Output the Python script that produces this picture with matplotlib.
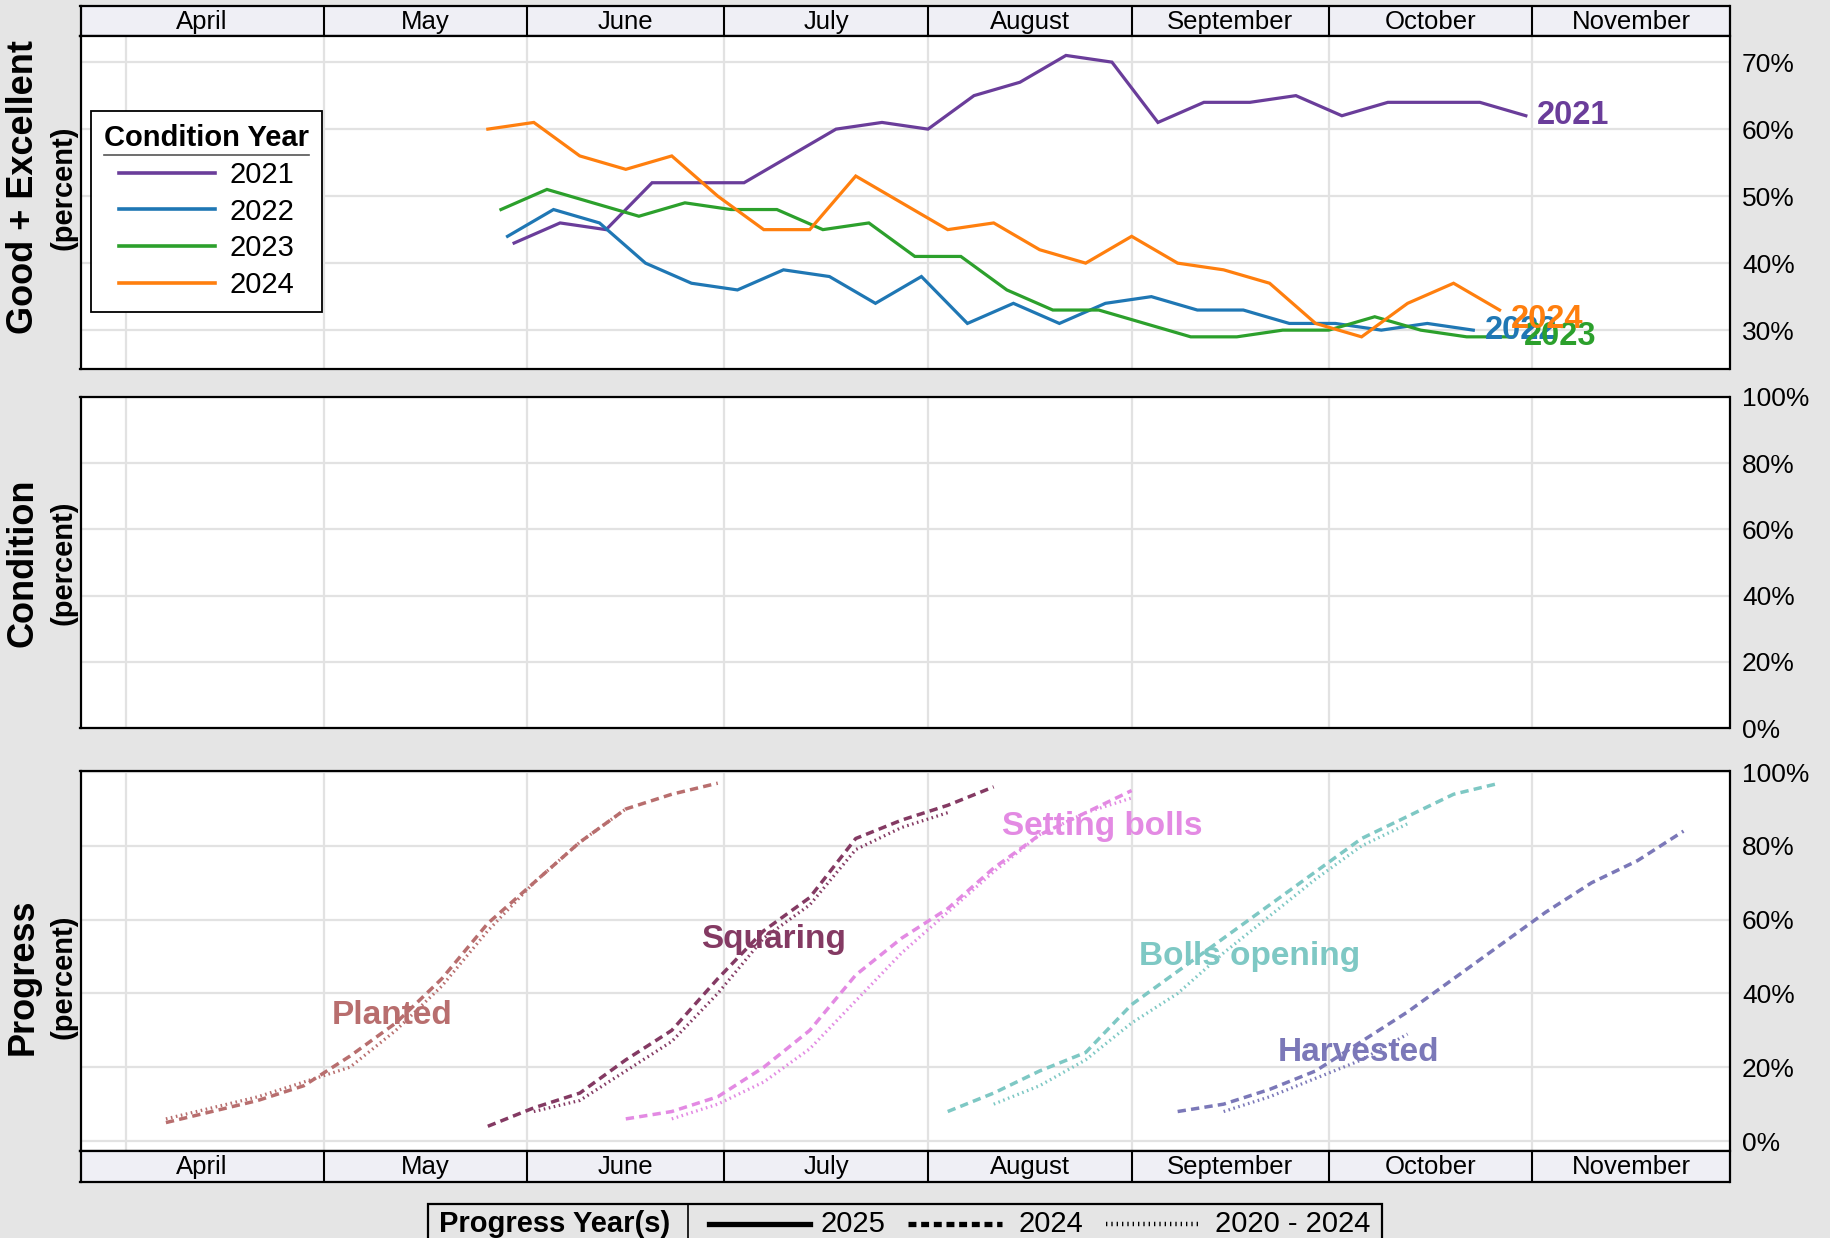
import matplotlib
matplotlib.use('Agg')
import matplotlib.pyplot as plt
import pandas as pd
from matplotlib.lines import Line2D
from matplotlib.patches import Rectangle

plt.rcParams['font.family'] = ['Liberation Sans', 'DejaVu Sans']

# ---- data -------------------------------------------------------------
months = ['April', 'May', 'June', 'July', 'August', 'September', 'October', 'November']
month_starts = ['2025-04-01', '2025-05-01', '2025-06-01', '2025-07-01',
                '2025-08-01', '2025-09-01', '2025-10-01', '2025-11-01']
x_start, x_end = '2025-03-25', '2025-12-01'

# crop condition, good + excellent (%), weekly, dates mapped onto one calendar
cond_years = ['2021', '2022', '2023', '2024']
cond_first_week = ['2025-05-30', '2025-05-29', '2025-05-28', '2025-05-26']
cond_2021 = [43, 46, 45, 52, 52, 52, 56, 60, 61, 60, 65, 67, 71, 70, 61, 64, 64, 65, 62, 64, 64, 64, 62]
cond_2022 = [44, 48, 46, 40, 37, 36, 39, 38, 34, 38, 31, 34, 31, 34, 35, 33, 33, 31, 31, 30, 31, 30]
cond_2023 = [48, 51, 49, 47, 49, 48, 48, 45, 46, 41, 41, 36, 33, 33, 31, 29, 29, 30, 30, 32, 30, 29, 29]
cond_2024 = [60, 61, 56, 54, 56, 50, 45, 45, 53, 49, 45, 46, 42, 40, 44, 40, 39, 37, 31, 29, 34, 37, 33]
cond_colors = ['#6a3d9a', '#1f77b4', '#2ca02c', '#ff7f0e']

# crop progress (%), weekly: 2024 and 2020-2024 average
stages = ['Planted', 'Squaring', 'Setting bolls', 'Bolls opening', 'Harvested']
stage_colors = ['#b86e6e', '#843a63', '#e38ae3', '#7ec8c4', '#7b78b8']
prog_2024_first = ['2025-04-07', '2025-05-26', '2025-06-16', '2025-08-04', '2025-09-08']
prog_2024 = [
    [5, 8, 11, 15, 23, 32, 44, 59, 70, 81, 90, 94, 97],
    [4, 9, 13, 22, 30, 44, 57, 66, 82, 87, 91, 96],
    [6, 8, 12, 20, 30, 45, 55, 63, 74, 83, 89, 95],
    [8, 13, 19, 24, 37, 46, 55, 64, 73, 82, 88, 94, 97],
    [8, 10, 14, 19, 27, 35, 44, 53, 62, 70, 76, 84],
]
prog_avg_first = ['2025-04-07', '2025-06-02', '2025-06-23', '2025-08-11', '2025-09-15']
prog_avg = [
    [6, 9, 12, 16, 20, 30, 42, 57, 70, 81, 90],
    [8, 11, 19, 27, 40, 55, 64, 79, 85, 89],
    [6, 10, 16, 25, 38, 51, 62, 73, 83, 89, 93],
    [10, 15, 22, 32, 40, 51, 61, 71, 80, 86],
    [8, 12, 17, 22, 29],
]

# ---- layout helpers ----------------------------------------------------
W, H = 1830, 1238
BG = '#e5e5e5'
GRID = '#e2e2e2'


def fx(px):
    return px / W


def fy(py):
    return 1 - py / H


def box(top, bottom):
    return [fx(80.5), fy(bottom), fx(1729.5) - fx(80.5), fy(top) - fy(bottom)]


x0, x1 = pd.Timestamp(x_start), pd.Timestamp(x_end)
starts = pd.to_datetime(month_starts)

fig = plt.figure(figsize=(W / 100, H / 100), dpi=100, facecolor=BG)


def month_header(ax):
    ax.set_facecolor('#efeff5')
    ax.set_xlim(x0, x1)
    ax.set_ylim(0, 1)
    ax.set_xticks([])
    ax.set_yticks([])
    edges = [x0] + list(starts[1:]) + [x1]
    for d in starts[1:]:
        ax.axvline(d, color='black', lw=1.5)
    for name, a, b in zip(months, edges[:-1], edges[1:]):
        ax.text(a + (b - a) / 2, 0.47, name, ha='center', va='center', fontsize=18.5)
    for s in ax.spines.values():
        s.set_linewidth(1.6)


def style_panel(ax, ylim, ticks):
    ax.set_facecolor('white')
    ax.set_xlim(x0, x1)
    ax.set_ylim(*ylim)
    ax.set_xticks(starts)
    ax.set_yticks(ticks)
    ax.set_yticklabels([f'{t}%' for t in ticks])
    ax.yaxis.tick_right()
    ax.tick_params(axis='y', length=0, pad=9, labelsize=19)
    ax.tick_params(axis='x', length=0, labelbottom=False)
    ax.grid(color=GRID, lw=1.6)
    ax.set_axisbelow(True)
    for s in ax.spines.values():
        s.set_linewidth(1.6)


def side_label(top, bottom, big, small='(percent)'):
    yc = fy((top + bottom) / 2)
    fig.text(fx(23.5), yc, big, rotation=90, ha='center', va='center',
             fontsize=26, fontweight='bold')
    fig.text(fx(63.5), yc, small, rotation=90, ha='center', va='center',
             fontsize=21, fontweight='bold')


# ---- top: condition good + excellent -----------------------------------
hdr_top = fig.add_axes(box(6, 36))
month_header(hdr_top)

ax1 = fig.add_axes(box(36, 369))
style_panel(ax1, (24.2, 73.9), [30, 40, 50, 60, 70])
label_nudge = {'2024': -7}
for yr, first, vals, col in zip(cond_years, cond_first_week,
                                [cond_2021, cond_2022, cond_2023, cond_2024], cond_colors):
    dates = pd.date_range(first, periods=len(vals), freq='7D')
    ax1.plot(dates, vals, color=col, lw=2.3, label=yr, solid_joinstyle='miter')
    ax1.annotate(yr, (dates[-1], vals[-1]), xytext=(8, label_nudge.get(yr, 0)),
                 textcoords='offset points', ha='left', va='center',
                 color=col, fontsize=23.5, fontweight='bold')

leg = ax1.legend(title='Condition Year', loc='upper left', bbox_to_anchor=(0.0064, 0.775),
                 fontsize=21, title_fontproperties={'weight': 'bold', 'size': 21},
                 fancybox=False, edgecolor='black', framealpha=1, handlelength=3.3,
                 labelspacing=0.3, borderpad=0.45, handletextpad=0.5, borderaxespad=0)
leg.get_frame().set_linewidth(1.3)
for h in leg.legend_handles:
    h.set_linewidth(2.6)
side_label(6, 369, 'Good + Excellent')

# ---- middle: condition (empty, current season) --------------------------
ax2 = fig.add_axes(box(397, 728))
style_panel(ax2, (0, 100), [0, 20, 40, 60, 80, 100])
side_label(397, 728, 'Condition')

# ---- bottom: progress ----------------------------------------------------
ax3 = fig.add_axes(box(771, 1151))
style_panel(ax3, (-2.7, 100.3), [0, 20, 40, 60, 80, 100])
for st, col, f24, v24, fav, vav in zip(stages, stage_colors, prog_2024_first, prog_2024,
                                        prog_avg_first, prog_avg):
    d24 = pd.date_range(f24, periods=len(v24), freq='7D')
    dav = pd.date_range(fav, periods=len(vav), freq='7D')
    ax3.plot(d24, v24, color=col, lw=2.5, linestyle=(0, (2.4, 1.5)))
    ax3.plot(dav, vav, color=col, lw=2.3, linestyle=(0, (0.5, 1.1)))

stage_label_pos = [('2025-05-11 12:00', 31.6), ('2025-07-08 12:00', 52.4), ('2025-08-27 12:00', 82.9),
                   ('2025-09-19', 47.7), ('2025-10-05 12:00', 21.7)]
for st, col, (d, y) in zip(stages, stage_colors, stage_label_pos):
    ax3.text(pd.Timestamp(d), y, st, color=col, fontsize=24, fontweight='bold',
             ha='center', va='baseline')

hdr_bot = fig.add_axes(box(1151, 1182))
month_header(hdr_bot)
side_label(771, 1182, 'Progress')

# ---- bottom legend (title to the left) ----------------------------------
fig.add_artist(Rectangle((fx(428), fy(1260)), fx(1382) - fx(428), fy(1204) - fy(1260),
                         transform=fig.transFigure, facecolor='none', edgecolor='black',
                         lw=1.6, clip_on=False))
fig.add_artist(Line2D([fx(688), fx(688)], [fy(1204), fy(1260)], transform=fig.transFigure,
                      color='black', lw=1.2))
yc = fy(1224)
fig.text(fx(439), yc, 'Progress Year(s)', fontsize=21, fontweight='bold', va='center')
for (a, b), ls, lw, txt, tx in [((709, 810), '-', 3.8, '2025', 821),
                                ((908, 1002), (0, (1.5, 0.9)), 3.8, '2024', 1019),
                                ((1106, 1201), (0, (0.3, 0.9)), 3.2, '2020 - 2024', 1215)]:
    fig.add_artist(Line2D([fx(a), fx(b)], [yc, yc], transform=fig.transFigure,
                          color='black', lw=lw, linestyle=ls))
    fig.text(fx(tx), yc, txt, fontsize=21, va='center')

# underline under the condition legend title
fig.canvas.draw()
bb = leg.get_title().get_window_extent()
inv = fig.transFigure.inverted()
(ux0, uy), (ux1, _) = inv.transform([(bb.x0, bb.y0 - 3), (bb.x1, bb.y0 - 3)])
fig.add_artist(Line2D([ux0, ux1], [uy, uy], transform=fig.transFigure, color='#555555', lw=1.2))

fig.savefig('out.png', dpi=100, facecolor=BG)
